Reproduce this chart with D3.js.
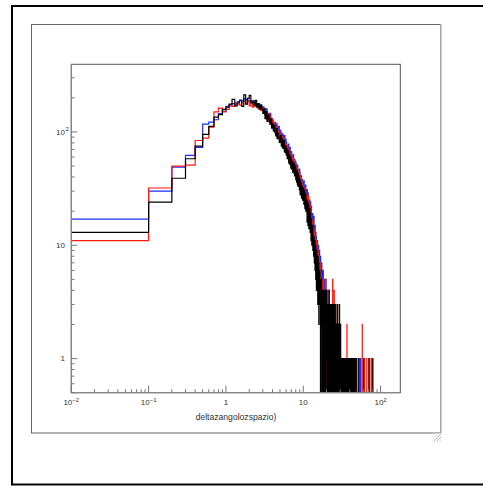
<!DOCTYPE html>
<html><head><meta charset="utf-8">
<script src="https://cdn.jsdelivr.net/npm/d3@7"></script>
<style>html,body{margin:0;padding:0;background:#fff;overflow:hidden}</style>
</head><body><svg id="c" width="483" height="486"></svg>
<script>
// ---- data: histogram counts, bin width 0.1 starting at 0 ----
const binWidth = 0.1;
const xTickValues = [0.01, 0.1, 1, 10, 100];
const xTickLabels = [["10","\u22122"],["10","\u22121"],["1",""],["10",""],["10","2"]];
const yTickValues = [1, 10, 100];
const yTickLabels = [["1",""],["10",""],["10","2"]];
const xTitle = "deltazangolozspazio)";

// bins 0.0 .. 10.9
const blueLow = [17,30,49,62,73,117,122,128,145,152,168,172,178,176,185,190,188,196,193,186,190,182,178,184,176,170,174,166,172,160,
166,149,158,160,137,143,129,146,124,131, 127,114,109,121,102,118,96,108,112,94, 104,88,98,84,95,90,79,93,76,86,
81,70,75,66,78,61,69,73,58,64, 67,56,60,52,63,58,49,57,47,55, 53,45,49,42,51,41,46,44,38,47,
44,36,40,34,41,37,31,38,33,36, 35,29,37,27,33,30,25,34,28,26];
const redLow = [11,32,50,51,84,88,110,150,162,150,158,170,168,180,176,172,182,186,178,190,170,184,165,178,168,172,160,168,155,162,
153,161,140,151,129,146,122,137,116,130, 113,122,101,116,97,110,89,104,99,84, 96,83,79,92,74,88,82,67,80,70,
78,62,74,60,70,55,68,64,51,63, 53,61,48,58,45,57,43,54,42,51, 44,50,38,48,37,46,35,44,33,43,
33,41,30,39,28,37,35,27,34,26, 33,25,31,23,32,22,29,30,21,28];
const blackLow = [13,24,39,58,75,95,112,135,142,158,165,176,194,170,180,190,168,212,176,198,210,180,188,172,190,165,178,160,172,158,
146,160,131,152,124,141,133,117,129,108, 118,102,114,98,92,107,87,97,90,81, 86,93,75,87,72,78,84,68,66,75,
63,71,58,60,68,53,63,52,61,48, 57,47,55,44,53,45,52,41,42,50, 38,46,36,45,34,43,33,41,39,31,
38,28,36,31,35,26,33,29,25,32, 26,31,23,28,30,21,26,28,20,25];

// bins 11.0 .. 29.9
const blueTail = [28,22,31,24,19,29,21,27,18,25, 23,25,17,21,24,15,20,22,14,19, 18,14,19,12,17,11,15,18,10,14,
14,9,15,11,8,13,10,12,7,11, 10,7,11,6,9,8,5,10,6,8, 7,5,9,4,7,6,3,8,4,6, 5,6,3,7,4,2,6,3,5,3,
4,6,2,5,3,1,5,3,2,4, 3,2,5,1,4,2,5,2,3,1, 2,3,1,4,2,0,3,2,1,3, 2,1,3,2,0,2,4,1,2,3,
1,2,3,0,2,1,2,3,1,2, 2,0,1,3,1,2,0,2,1,3, 1,2,0,1,2,1,3,0,1,2, 1,0,2,1,1,3,0,1,2,1,
0,1,2,1,0,1,1,2,0,1, 2,1,0,1,1,0,2,1,0,1, 1,0,1,2,0,1,0,1,1,0, 0,1,1,0,2,0,1,0,1,1];
const redTail = [28,21,19,26,24,17,27,20,16,24, 22,16,23,17,13,21,15,19,17,12, 17,13,11,16,12,15,10,14,11,9,
13,9,8,12,7,11,9,6,11,8, 10,6,8,5,7,9,4,7,6,4, 8,4,6,3,5,7,3,5,2,5, 5,3,0,4,5,3,4,2,5,3,
4,2,3,5,0,3,4,2,3,4, 2,4,3,1,3,5,2,3,0,2, 3,1,2,4,2,1,3,0,2,3, 1,3,2,0,3,1,2,4,1,2,
2,1,0,3,1,2,1,2,3,0, 1,2,3,1,0,2,1,0,2,1, 5,0,1,2,1,0,3,1,2,0, 1,4,0,1,2,0,1,1,3,0,
1,0,2,1,0,1,2,0,1,1, 0,2,1,0,1,3,0,1,0,2, 1,0,1,0,2,1,0,1,0,1, 0,1,0,2,0,1,0,0,1,0];
const blackTail = [21,25,16,22,24,15,20,23,14,19, 17,21,14,13,19,15,11,17,14,10, 13,10,15,9,12,11,8,12,10,7,
9,11,6,8,10,5,9,7,4,9, 6,8,4,7,3,8,5,3,7,2, 6,4,5,6,3,5,4,0,5,4, 4,3,5,2,4,0,3,4,2,3,
3,4,0,2,3,4,1,3,2,0, 2,3,4,0,2,3,1,2,3,1, 4,2,0,3,1,2,3,0,2,1, 2,0,3,1,2,4,1,0,2,3,
1,2,0,3,1,0,2,1,3,2, 0,3,1,2,0,1,2,3,1,0, 2,1,0,3,1,2,0,1,2,1, 0,1,3,1,0,2,1,0,1,2,
1,0,1,3,0,1,2,1,0,1, 2,1,0,1,2,0,1,0,3,1, 0,1,2,0,1,0,1,2,0,1, 1,0,1,0,3,0,1,1,0,2];

// sparse bins beyond 30: [bin start, count]
const blueSparse = [[30.0,1],[30.3,1],[30.5,1],[30.6,1],[30.9,1],[31.1,1],[31.4,1],[31.6,1],[31.9,1],[32.2,1],[32.4,1],[32.7,1],[33.0,1],[33.4,1],[33.7,1],[34.1,1],[34.5,1],[34.8,1],[35.2,1],[35.6,1],[36.0,1],[36.4,1],[36.9,1],[37.2,1],[37.7,1],[38.1,1],[38.6,1],[39.3,1],[39.8,1],[40.2,1],[40.9,1],[41.4,1],[42.0,1],[42.7,1],[43.3,1],[44.6,1],[45.1,1],[46.5,1],[47.8,1],[51.2,1],[54.0,1],[55.6,1]];
const redSparse = [[30.2,1],[30.7,1],[31.0,1],[31.5,1],[32.1,1],[32.6,1],[32.9,1],[33.5,1],[34.0,1],[34.4,1],[35.0,1],[35.5,1],[35.9,1],[36.7,2],[37.4,1],[38.0,1],[38.8,1],[39.5,1],[40.5,1],[41.1,1],[41.9,1],[43.0,1],[43.8,1],[45.5,1],[46.8,1],[48.9,1],[58.0,2],[62.5,1],[66.3,1],[70.5,1],[75.4,1],[78.0,1]];
const blackSparse = [[30.1,1],[30.4,2],[30.8,1],[31.2,1],[31.7,1],[32.0,1],[32.5,1],[33.1,1],[33.6,1],[34.2,1],[34.7,1],[35.3,1],[35.8,1],[36.3,1],[37.0,1],[37.5,1],[38.3,1],[38.9,1],[39.6,1],[40.4,1],[41.0,1],[41.7,1],[42.4,1],[43.5,1],[44.2,1],[45.3,1],[46.1,1],[47.0,1],[48.4,1],[52.3,1],[60.5,1],[71.0,1],[79.5,1]];

const seriesList = [
  {name:"blue", color:"#1a2cff", low:blueLow, tail:blueTail, sparse:blueSparse},
  {name:"red", color:"#ff1a0a", low:redLow, tail:redTail, sparse:redSparse},
  {name:"black", color:"#000000", low:blackLow, tail:blackTail, sparse:blackSparse}
];

// ---- layout ----
const svg = d3.select("#c");
const P = {l:71.3, r:400.3, t:64.3, b:392.7};
const x = d3.scaleLog().domain([0.01, 180]).range([P.l, P.r]);
const y = d3.scaleLog().domain([0.5, 395]).range([P.b, P.t]);

// outer canvas border
svg.append("rect").attr("x",12).attr("y",6).attr("width",490).attr("height",478.5)
  .attr("fill","none").attr("stroke","#000").attr("stroke-width",2);
// inner pad frame
svg.append("rect").attr("x",31.5).attr("y",24.5).attr("width",409).attr("height",408.5)
  .attr("fill","#fff").attr("stroke","#666").attr("stroke-width",1);
svg.append("line").attr("x1",440.8).attr("x2",440.8).attr("y1",24).attr("y2",433)
  .attr("stroke","#aaa").attr("stroke-width",1.6);
// resize grip
const g0 = svg.append("g");
g0.append("rect").attr("x",432).attr("y",433.5).attr("width",9.5).attr("height",9).attr("fill","#f2f2f2");
[[434,441,441,434],[437,441,441,437]].forEach(d=>g0.append("line").attr("x1",d[0]).attr("y1",d[1]).attr("x2",d[2]).attr("y2",d[3]).attr("stroke","#bbb").attr("stroke-width",0.8));

// clip
svg.append("defs").append("clipPath").attr("id","clip").append("rect")
  .attr("x",P.l).attr("y",P.t).attr("width",P.r-P.l).attr("height",P.b-P.t);

// build bins
function buildBins(s){
  const counts = s.low.concat(s.tail);
  const last = Math.max(...s.sparse.map(d=>Math.round(d[0]/binWidth)));
  const all = counts.slice();
  while(all.length <= last+1) all.push(0);
  s.sparse.forEach(d=>{ all[Math.round(d[0]/binWidth)] = d[1]; });
  return all.map((v,i)=>({x0:i*binWidth, x1:(i+1)*binWidth, v:v}));
}
const zeroY = P.b + 6;
const yPos = v => v>0 ? y(v) : zeroY;
const xPos = v => x(Math.max(v, 0.001));

const plot = svg.append("g").attr("clip-path","url(#clip)");
seriesList.forEach(s=>{
  const bins = buildBins(s);
  const pts = [];
  bins.forEach(b=>{ pts.push([xPos(b.x0), yPos(b.v)]); pts.push([xPos(b.x1), yPos(b.v)]); });
  pts.push([xPos(bins[bins.length-1].x1), zeroY]);
  plot.append("path").attr("d", d3.line()(pts)).attr("fill","none")
    .attr("stroke", s.color).attr("stroke-width",1.2);
});

// frame
svg.append("rect").attr("x",P.l).attr("y",P.t).attr("width",P.r-P.l).attr("height",P.b-P.t)
  .attr("fill","none").attr("stroke","#555").attr("stroke-width",1);
svg.append("line").attr("x1",P.l).attr("x2",P.r).attr("y1",P.b).attr("y2",P.b).attr("stroke","#888").attr("stroke-width",1.2);
svg.append("line").attr("x1",P.l).attr("x2",P.l).attr("y1",P.t).attr("y2",P.b).attr("stroke","#888").attr("stroke-width",1.2);

// ticks
const tickColor = "#777";
const xt = svg.append("g");
for(let e=-2;e<=2;e++){
  for(let k=1;k<=9;k++){
    const v = k*Math.pow(10,e);
    if(v<0.01-1e-9 || v>180) continue;
    const len = k===1?7:3.5;
    const px = x(v);
    xt.append("line").attr("x1",px).attr("x2",px).attr("y1",P.b).attr("y2",P.b-len).attr("stroke",tickColor).attr("stroke-width",1);
  }
}
const yt = svg.append("g");
for(let e=-1;e<=2;e++){
  for(let k=1;k<=9;k++){
    const v = k*Math.pow(10,e);
    if(v<0.5 || v>395) continue;
    const len = k===1?6:3.2;
    const py = y(v);
    yt.append("line").attr("x1",P.l).attr("x2",P.l+len).attr("y1",py).attr("y2",py).attr("stroke",tickColor).attr("stroke-width",1);
  }
}

// tick labels
const font = "'Liberation Sans', Arial, Helvetica, sans-serif";
xTickValues.forEach((v,i)=>{
  const lab = xTickLabels[i];
  const t = svg.append("text").attr("x", x(v)).attr("y", 405).attr("text-anchor","middle")
    .attr("font-family",font).attr("font-size",8).attr("fill","#333");
  t.append("tspan").text(lab[0]);
  if(lab[1]) t.append("tspan").attr("dy",-3.5).attr("font-size",6).text(lab[1]);
});
yTickValues.forEach((v,i)=>{
  const lab = yTickLabels[i];
  svg.append("text").attr("x", 65).attr("y", y(v)+2.8).attr("text-anchor","end")
    .attr("font-family",font).attr("font-size",8).attr("fill","#333").text(lab[0]);
  if(lab[1]) svg.append("text").attr("x",65.6).attr("y",y(v)-0.8).attr("font-family",font)
    .attr("font-size",6).attr("fill","#333").text(lab[1]);
});
svg.append("text").attr("x",236).attr("y",419.5).attr("text-anchor","middle")
  .attr("font-family",font).attr("font-size",8.6).attr("fill","#333").text(xTitle);
</script></body></html>
